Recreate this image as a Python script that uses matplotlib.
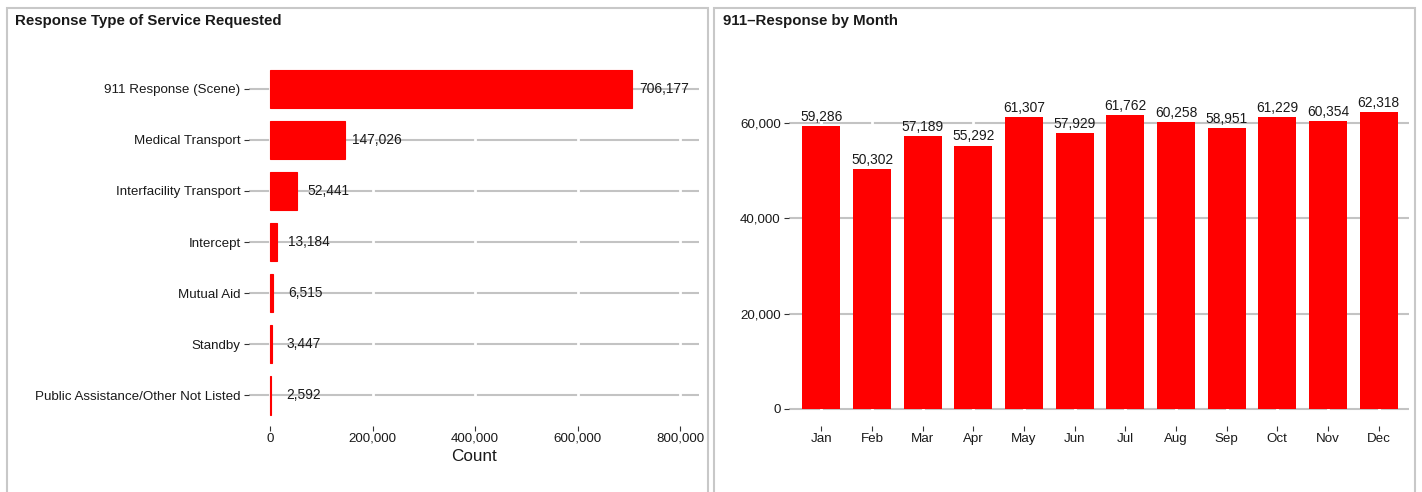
import numpy as np
import matplotlib
matplotlib.use('Agg')
import matplotlib.pyplot as plt
from matplotlib.patches import Rectangle
from matplotlib.ticker import FuncFormatter

plt.rcParams['font.family'] = ['Liberation Sans', 'DejaVu Sans']

# left panel data
response_types = ['911 Response (Scene)', 'Medical Transport', 'Interfacility Transport',
                  'Intercept', 'Mutual Aid', 'Standby', 'Public Assistance/Other Not Listed']
response_counts = [706177, 147026, 52441, 13184, 6515, 3447, 2592]
count_ticks = [0, 200000, 400000, 600000, 800000]

# right panel data
months = ['Jan', 'Feb', 'Mar', 'Apr', 'May', 'Jun', 'Jul', 'Aug', 'Sep', 'Oct', 'Nov', 'Dec']
month_counts = [59286, 50302, 57189, 55292, 61307, 57929, 61762, 60258, 58951, 61229, 60354, 62318]
month_ticks = [0, 20000, 40000, 60000]

W, H = 1422, 492
fig = plt.figure(figsize=(W / 100, H / 100), dpi=100)

GRID = '#c3c3c3'
RED = '#ff0000'
TXT = '#1a1a1a'
TICK_FS = 9.6
LABEL_FS = 9.9

def px(x0, y0, x1, y1):
    '''pixel box (top-left origin) -> figure fraction rect'''
    return [x0 / W, 1 - y1 / H, (x1 - x0) / W, (y1 - y0) / H]

def comma(v, pos=None):
    return f'{int(v):,}'

# panel borders
for x0, x1 in [(7, 708), (714, 1415)]:
    fig.add_artist(Rectangle((x0 / W, -0.05), (x1 - x0) / W, 1.05 - 8 / H,
                             transform=fig.transFigure, fill=False,
                             edgecolor='#c8c8c8', linewidth=1.5))

def style(ax):
    for s in ax.spines.values():
        s.set_visible(False)
    ax.tick_params(length=3.5, width=0.8, color='#333333', labelcolor=TXT,
                   labelsize=TICK_FS, pad=1.5)
    ax.tick_params(axis='y', pad=2.5)

# ---- left: horizontal bars
ax1 = fig.add_axes(px(249, 58, 699, 426))
style(ax1)
ypos = np.arange(len(response_types))
ax1.set_ylim(len(response_types) - 1 + 0.6, -0.6)
ax1.set_xlim(-41000, 837000)
for y in ypos:
    ax1.axhline(y, color=GRID, linewidth=1.5, zorder=1)
for x in count_ticks:
    ax1.axvline(x, color='white', linewidth=2, zorder=1.5)
ax1.barh(ypos, response_counts, height=0.75, color=RED, edgecolor=RED,
         linewidth=0.8, zorder=2)
for y, v in zip(ypos, response_counts):
    ax1.annotate(f'{v:,}', (v, y), xytext=(23, 0), textcoords='offset points',
                 ha='center', va='center', fontsize=LABEL_FS, color=TXT, zorder=3)
ax1.set_yticks(ypos)
ax1.set_yticklabels(response_types)
ax1.set_xticks(count_ticks)
ax1.xaxis.set_major_formatter(FuncFormatter(comma))
ax1.set_xlabel('Count', fontsize=12.3, color=TXT, labelpad=3)
fig.text(15 / W, 1 - 21 / H, 'Response Type of Service Requested', fontsize=10.8,
         fontweight='bold', va='center', ha='left', color=TXT)

# ---- right: monthly bars
ax2 = fig.add_axes(px(789, 58, 1409, 426))
style(ax2)
xpos = np.arange(len(months))
ax2.set_xlim(-0.64, len(months) - 1 + 0.6)
ax2.set_ylim(-3570, 73660)
for y in month_ticks:
    ax2.axhline(y, color=GRID, linewidth=1.5, zorder=1)
for x in xpos:
    ax2.axvline(x, color='white', linewidth=2, zorder=1.5)
ax2.bar(xpos, month_counts, width=0.75, color=RED, zorder=2)
for x, v in zip(xpos, month_counts):
    ax2.annotate(f'{v:,}', (x, v), xytext=(0, 1.5), textcoords='offset points',
                 ha='center', va='bottom', fontsize=LABEL_FS, color=TXT, zorder=3)
ax2.set_xticks(xpos)
ax2.set_xticklabels(months)
ax2.set_yticks(month_ticks)
ax2.yaxis.set_major_formatter(FuncFormatter(comma))
fig.text(723 / W, 1 - 21 / H, '911\u2013Response by Month', fontsize=10.8,
         fontweight='bold', va='center', ha='left', color=TXT)

fig.savefig('out.png', dpi=100)
